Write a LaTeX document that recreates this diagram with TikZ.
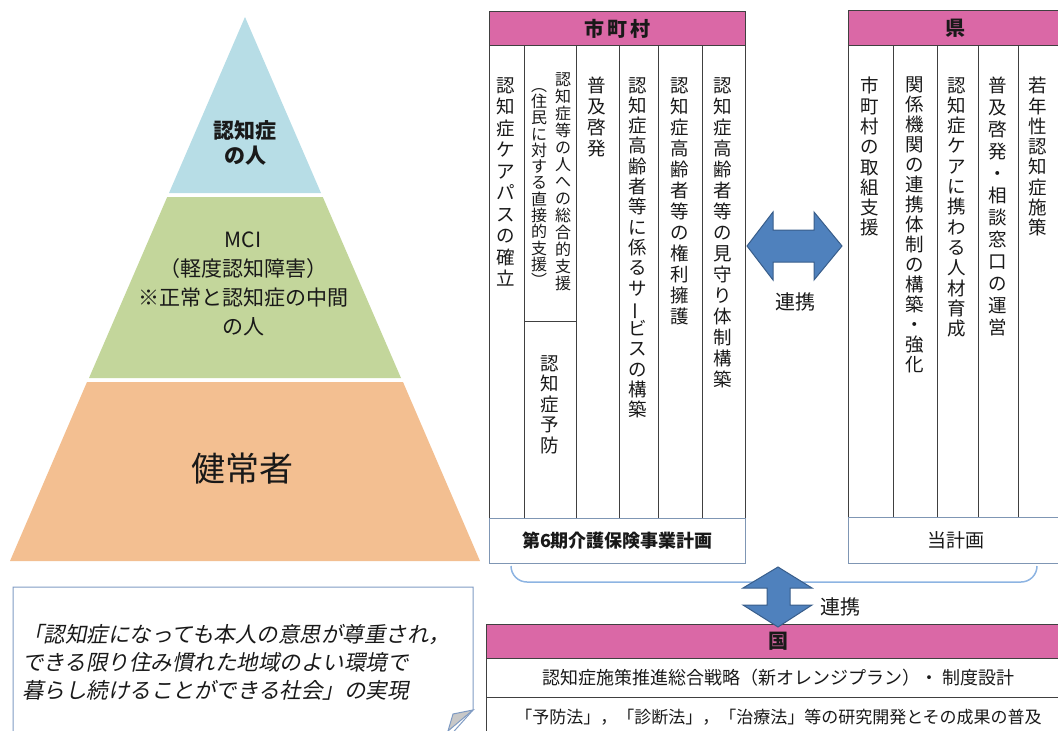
\documentclass[tikz,border=0pt]{standalone}
\usepackage{fontspec}
\usepackage{graphicx}
\setmainfont{Noto Sans CJK JP}
\newfontfamily\itcjk[FakeSlant=0.2]{Noto Sans CJK JP}
\definecolor{pyrblue}{RGB}{183,221,230}
\definecolor{pyrgreen}{RGB}{195,214,155}
\definecolor{pyrpeach}{RGB}{243,191,145}
\definecolor{hdrpink}{RGB}{218,104,166}
\definecolor{darkline}{RGB}{64,64,64}
\definecolor{footline}{RGB}{127,150,180}
\definecolor{arrowblue}{RGB}{79,129,189}
\definecolor{arrowedge}{RGB}{56,93,138}
\definecolor{bracketc}{RGB}{141,180,226}
\definecolor{notebd}{RGB}{127,155,195}
\definecolor{foldgray}{RGB}{200,200,200}
\definecolor{txt}{RGB}{25,25,25}
\makeatletter
\def\vt@end{\vt@end}
\def\vt@step#1{\ifx\vt@end#1\else\hbox to 1.2em{\hss#1\hss}\expandafter\vt@step\fi}
\newcommand\vtext[2]{\vtop{\baselineskip=#1\lineskiplimit=-100pt\lineskip=0pt\vt@step#2\vt@end}}
\makeatother
\newcommand\vchoon{\rotatebox[origin=c]{90}{ー}}
\begin{document}
\begin{tikzpicture}[x=1pt,y=-1pt,
  hdr/.style={fill=hdrpink,draw=darkline,line width=1.2pt,inner sep=0pt,anchor=north west,text=txt},
  colrule/.style={draw=darkline,line width=0.9pt},
  footbox/.style={draw=footline,line width=1pt,inner sep=0pt,anchor=north west,text=txt},
  rowbox/.style={draw=darkline,line width=1pt,inner sep=0pt,anchor=north west,text=txt},
  vlab/.style={anchor=north,inner sep=0pt,text=txt,font=\fontsize{18.5}{21}\selectfont},
  vlabs/.style={anchor=north,inner sep=0pt,text=txt,font=\fontsize{16}{17}\selectfont},
  arrowshape/.style={fill=arrowblue,draw=arrowedge,line width=1pt},
  lab/.style={inner sep=0pt,text=txt}]
\useasboundingbox (0,0) rectangle (1058,731);
% pyramid
\fill[pyrblue] (245,17) -- (321,193) -- (169,193) -- cycle;
\fill[pyrgreen] (167.2,197) -- (322.8,197) -- (401,378) -- (89,378) -- cycle;
\fill[pyrpeach] (87,382) -- (403,382) -- (480,561) -- (10,561) -- cycle;
\node[lab,font=\fontsize{21}{25}\selectfont\bfseries,align=center] (p1) at (245,143) {認知症\\の人};
\node[lab,font=\fontsize{21}{29}\selectfont,align=center] (p2) at (243,284) {MCI\\（軽度認知障害）\\※正常と認知症の中間\\の人};
\node[lab,font=\fontsize{34}{34}\selectfont] (p3) at (242,469) {健常者};
% municipality box
\node[hdr,minimum width=256pt,minimum height=34pt,font=\fontsize{20}{20}\selectfont\bfseries] (mh) at (489,11) {市\hspace{3pt}町\hspace{3pt}村};
\foreach \x in {489,524,576,619,658,702,745} \draw[colrule] (\x,45) -- (\x,518);
\draw[colrule] (524,321) -- (576,321);
\node[footbox,minimum width=256pt,minimum height=45pt,font=\fontsize{18}{18}\selectfont\bfseries] (mf) at (489,518) {第6期介護保険事業計画};
\node[vlab] (m1) at (506,77) {\vtext{21.5pt}{認知症ケアパスの確立}};
\node[vlabs] (m2a) at (563,72) {\vtext{17pt}{認知症等の人への総合的支援}};
\node[vlabs] (m2b) at (539,88) {\vtext{16.3pt}{︵住民に対する直接的支援︶}};
\node[vlab] (m2c) at (550,355) {\vtext{20.6pt}{認知症予防}};
\node[vlab] (m3) at (597,77) {\vtext{21pt}{普及啓発}};
\node[vlab] (m4) at (638,77) {\vtext{20.3pt}{認知症高齢者等に係るサ\vchoon ビスの構築}};
\node[vlab] (m5) at (680,77) {\vtext{21pt}{認知症高齢者等の権利擁護}};
\node[vlab] (m6) at (723,77) {\vtext{21pt}{認知症高齢者等の見守り体制構築}};
% prefecture box
\node[hdr,minimum width=214pt,minimum height=35pt,font=\fontsize{20}{20}\selectfont\bfseries] (kh) at (848,10) {県};
\foreach \x in {848,893,937,978,1018} \draw[colrule] (\x,45) -- (\x,517);
\node[footbox,minimum width=214pt,minimum height=46pt,font=\fontsize{19}{19}\selectfont] (kf) at (848,517) {当計画};
\node[vlab] (k1) at (870,77) {\vtext{20.3pt}{市町村の取組支援}};
\node[vlab] (k2) at (915,77) {\vtext{20pt}{関係機関の連携体制の構築・強化}};
\node[vlab] (k3) at (957,77) {\vtext{20.3pt}{認知症ケアに携わる人材育成}};
\node[vlab] (k4) at (998,77) {\vtext{22pt}{普及啓発・相談窓口の運営}};
\node[vlab] (k5) at (1038,77) {\vtext{20.3pt}{若年性認知症施策}};
% horizontal link arrow
\draw[arrowshape] (747,246) -- (773,212) -- (773,230) -- (814,230) -- (814,212) -- (842,246) -- (814,280) -- (814,262) -- (773,262) -- (773,280) -- cycle;
\node[lab,font=\fontsize{20}{20}\selectfont] (l1) at (795,302) {連携};
% bracket
\draw[bracketc,line width=1.5pt] (511,566) to[out=-90,in=180] (527,582) -- (1021,582) to[out=0,in=-90] (1037,566);
% national box
\node[hdr,minimum width=584pt,minimum height=34pt,font=\fontsize{20}{20}\selectfont\bfseries] (nh) at (486,624) {国};
\node[rowbox,minimum width=584pt,minimum height=39pt,font=\fontsize{18}{18}\selectfont] (n1) at (486,658) {認知症施策推進総合戦略（新オレンジプラン）・ 制度設計};
\node[rowbox,minimum width=584pt,minimum height=39pt,font=\fontsize{17}{17}\selectfont] (n2) at (486,697) {「予防法」，「診断法」，「治療法」等の研究開発とその成果の普及};
% vertical link arrow
\draw[arrowshape] (778,567) -- (812,588) -- (790,588) -- (790,605) -- (812,605) -- (778,627) -- (743,605) -- (767,605) -- (767,588) -- (743,588) -- cycle;
\node[lab,font=\fontsize{20}{20}\selectfont] (l2) at (840,607) {連携};
% note
\draw[notebd,line width=1pt] (13,745) -- (13,587) -- (473,587) -- (473,710) -- (448,738);
\filldraw[fill=foldgray,draw=notebd,line width=1pt] (473,710) -- (453,714) -- (448,731) -- cycle;
\node[lab,anchor=north west,align=left,font=\itcjk\fontsize{21.5}{28}\selectfont] (nt) at (22,624) {「認知症になっても本人の意思が尊重され，\\できる限り住み慣れた地域のよい環境で\\暮らし続けることができる社会」の実現};
\end{tikzpicture}
\end{document}
